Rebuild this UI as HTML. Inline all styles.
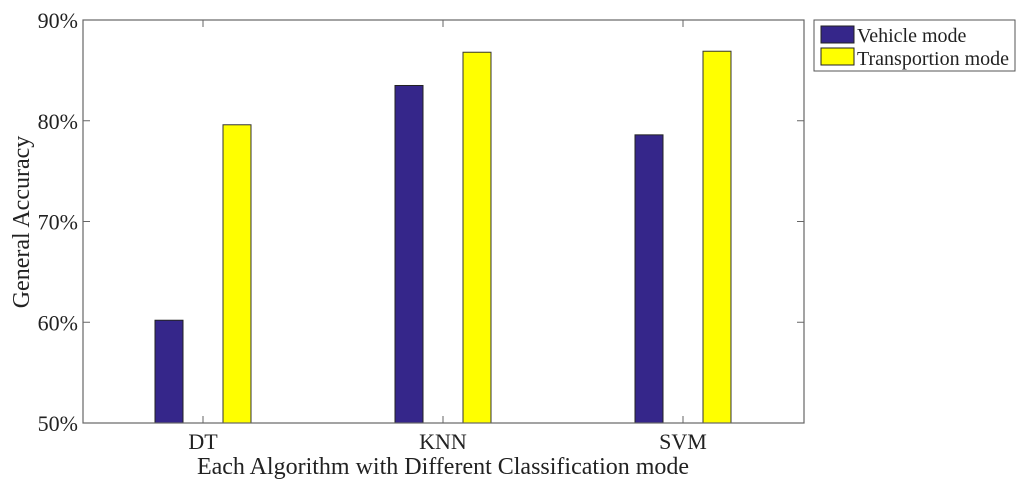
<!DOCTYPE html>
<html><head><meta charset="utf-8"><style>
body{margin:0;background:#fff;}
svg text{font-family:"Liberation Serif",serif;fill:#222;}
</style></head><body>
<svg id="chart" width="1024" height="493" xmlns="http://www.w3.org/2000/svg">
<g id="bars"></g>
<g id="axes"></g>
<text x="443" y="474" font-size="24" text-anchor="middle">Each Algorithm with Different Classification mode</text>
<text transform="translate(29,222) rotate(-90)" font-size="24" text-anchor="middle">General Accuracy</text>
<g>
<rect x="814" y="20" width="201" height="51" fill="#fff" stroke="#555" stroke-width="1"/>
<g>
<rect x="821" y="26" width="33" height="17" fill="#35268a" stroke="#222"/>
<text x="857" y="42" font-size="20">Vehicle mode</text></g>
<g>
<rect x="821" y="48" width="33" height="17" fill="#ffff00" stroke="#222"/>
<text x="857" y="65" font-size="20">Transportion mode</text></g>
</g>
</svg>
<script>
const categories=["DT","KNN","SVM"];
const vehicle=[60.2,83.5,78.6];
const transport=[79.6,86.8,86.9];
const yTicks=[50,60,70,80,90];
const NS="http://www.w3.org/2000/svg";
const L=83,R=804,T=20,B=423,yMin=50,yMax=90;
const y=v=>B-(v-yMin)/(yMax-yMin)*(B-T);
const x=i=>203+i*240;
function mk(t,a,p){const e=document.createElementNS(NS,t);for(const k in a)e.setAttribute(k,a[k]);p.appendChild(e);return e;}
const bars=document.getElementById('bars'),axes=document.getElementById('axes');
categories.forEach((c,i)=>{
 const b1=mk('rect',{x:x(i)-48,y:y(vehicle[i]),width:28,height:B-y(vehicle[i]),fill:'#35268a',stroke:'#222','stroke-width':1},bars);
 
 
 const b2=mk('rect',{x:x(i)+20,y:y(transport[i]),width:28,height:B-y(transport[i]),fill:'#ffff00',stroke:'#333','stroke-width':1},bars);
 
 
 mk('line',{x1:x(i),x2:x(i),y1:B,y2:B-7,stroke:'#666'},axes);
 mk('line',{x1:x(i),x2:x(i),y1:T,y2:T+7,stroke:'#666'},axes);
 const t=mk('text',{x:x(i),y:B+26,'font-size':22,'text-anchor':'middle'},axes);
 t.textContent=c;
 
 
});
yTicks.forEach(v=>{
 mk('line',{x1:L,x2:L+7,y1:y(v),y2:y(v),stroke:'#666'},axes);
 mk('line',{x1:R,x2:R-7,y1:y(v),y2:y(v),stroke:'#666'},axes);
 const t=mk('text',{x:L-5,y:y(v)+8,'font-size':22,'text-anchor':'end'},axes);
 t.textContent=v+'%';
 
 
});
const fr=mk('rect',{x:L,y:T,width:R-L,height:B-T,fill:'none',stroke:'#666','stroke-width':1.2},axes);


</script>
</body></html>
